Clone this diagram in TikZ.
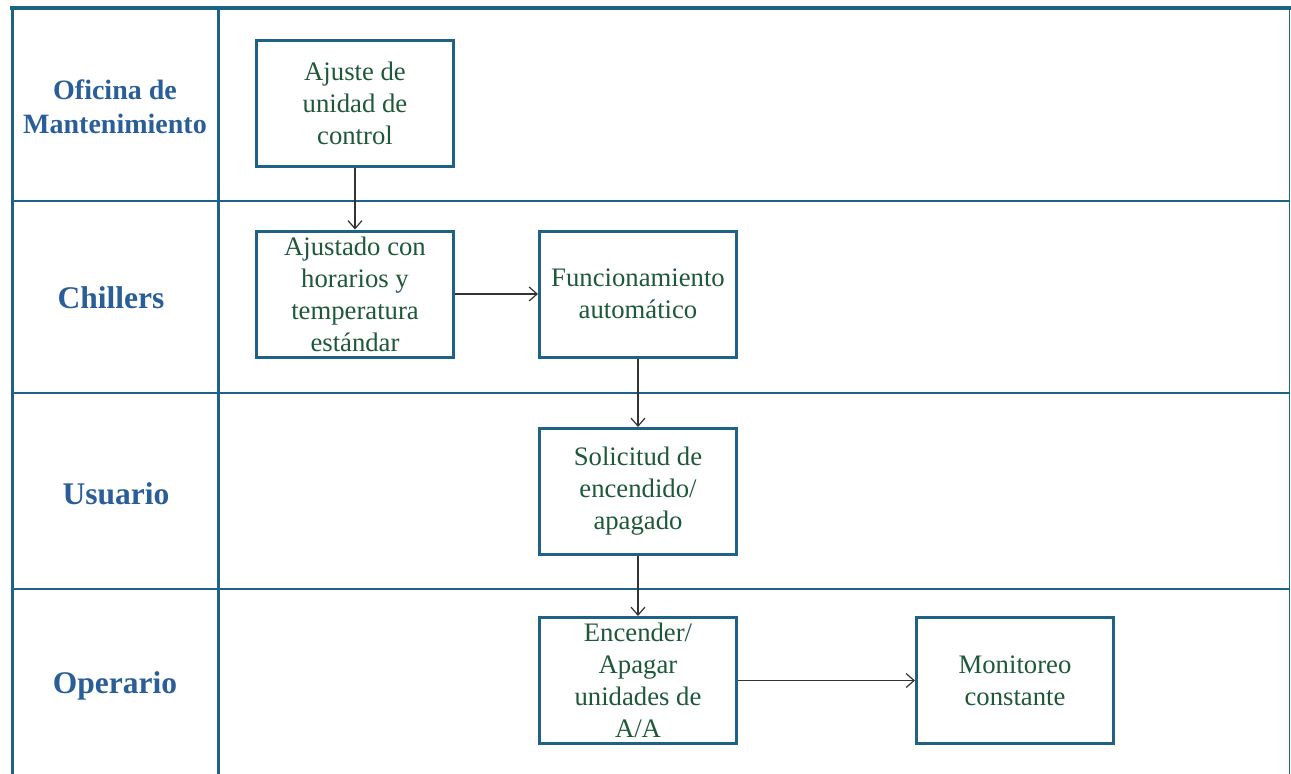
\documentclass[tikz,border=0pt]{standalone}
\usepackage{fontspec}
\setmainfont{Liberation Serif}
\usetikzlibrary{arrows.meta}
\definecolor{frame}{RGB}{30,98,134}
\definecolor{lanetxt}{RGB}{42,94,152}
\definecolor{boxtxt}{RGB}{30,88,56}
\tikzset{
  stepbox/.style={draw=frame, line width=3pt, minimum width=197pt, minimum height=126pt,
    inner sep=0pt, align=center, text=boxtxt, font=\fontsize{26.7}{32}\selectfont},
  lanelabel/.style={align=center, text=lanetxt, font=\bfseries\fontsize{31.5}{34}\selectfont},
  flow/.style={-{Straight Barb[length=8pt,width=14pt,line width=1.2pt]}, line width=1.2pt, draw=black!80}
}
\begin{document}
\begin{tikzpicture}[x=1pt,y=-1pt]
\useasboundingbox (0,0) rectangle (1291,774);
% frame
\draw[frame, line width=4pt] (10,8) -- (1291,8);
\draw[frame, line width=3pt] (12,6) -- (12,774);
\draw[frame, line width=3pt] (218,6) -- (218,774);
\draw[frame, line width=1.5pt] (1289.5,8) -- (1289.5,774);
\foreach \yy in {201,393,589} \draw[frame, line width=2pt] (12,\yy) -- (1289.5,\yy);
% lane labels
\node[lanelabel, font=\bfseries\fontsize{28}{34}\selectfont] (l1) at (115,107) {Oficina de\\Mantenimiento};
\node[lanelabel] (l2) at (111,298) {Chillers};
\node[lanelabel] (l3) at (116,494) {Usuario};
\node[lanelabel] (l4) at (115,686) {Operario};
% boxes
\node[stepbox] (b1) at (355,103.5) {Ajuste de\\unidad de\\control};
\node[stepbox] (b2) at (355,294) {Ajustado con\\horarios y\\temperatura\\est\'andar};
\node[stepbox] (b3) at (638,294) {Funcionamiento\\autom\'atico};
\node[stepbox] (b4) at (638,491.5) {Solicitud de\\encendido/\\apagado};
\node[stepbox] (b5) at (638,680.5) {Encender/\\Apagar\\unidades de\\A/A};
\node[stepbox] (b6) at (1015,680.5) {Monitoreo\\constante};
% connectors
\draw[flow] (b1) -- (b2);
\draw[flow] (b2) -- (b3);
\draw[flow] (b3) -- (b4);
\draw[flow] (b4) -- (b5);
\draw[flow] (b5) -- (b6);
\end{tikzpicture}
\end{document}
